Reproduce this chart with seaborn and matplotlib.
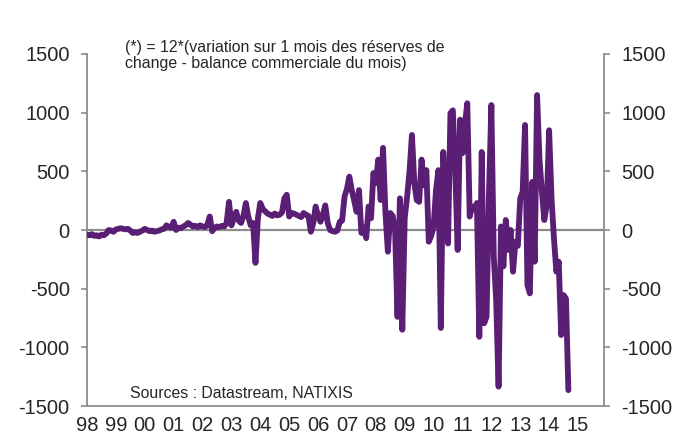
import matplotlib
matplotlib.use("Agg")
import matplotlib.pyplot as plt
import numpy as np
import pandas as pd
import seaborn as sns

# monthly values, Jan 1998 .. Sep 2014
y1998 = [-40, -45, -35, -50, -45, -55, -40, -45, -30, 0, -5, -15]
y1999 = [5, 10, 15, 10, 5, 10, -5, -25, -20, -25, -15, -5]
y2000 = [10, 0, -10, -5, -15, -10, -5, 5, 10, 40, 25, 20]
y2001 = [70, 0, 20, 15, 30, 40, 60, 45, 30, 35, 25, 40]
y2002 = [30, 25, 45, 115, -10, 20, 30, 25, 35, 30, 60, 240]
y2003 = [40, 100, 155, 80, 60, 120, 230, 115, 40, 60, -280, 100]
y2004 = [230, 180, 160, 140, 130, 120, 140, 125, 130, 150, 270, 300]
y2005 = [115, 145, 140, 130, 120, 110, 145, 130, 120, -15, 60, 200]
y2006 = [120, 70, 130, 210, 60, 0, -10, -15, -5, 70, 80, 285]
y2007 = [350, 455, 340, 250, 155, 340, -25, 20, -70, 200, 100, 485]
y2008 = [400, 600, 255, 700, 145, -185, 145, 120, 0, -740, 270, -850]
y2009 = [100, 285, 500, 810, 400, 255, 240, 600, 380, 510, -100, -50]
y2010 = [30, 340, 510, -835, 665, 300, -115, 995, 1020, 500, -170, 940]
y2011 = [655, 900, 1080, 115, 200, 180, 230, -910, 665, -795, -740, 300]
y2012 = [1065, -225, -600, -1335, 30, -310, 85, -170, 0, -355, -100, -135]
y2013 = [270, 325, 895, -470, -540, 410, -270, 1150, 600, 325, 85, 215]
y2014 = [850, 270, -70, -355, -270, -895, -555, -585, -1365]

years = list(range(1998, 2016))
year_labels = [f"{y % 100:02d}" for y in years]
y_ticks = [-1500, -1000, -500, 0, 500, 1000, 1500]

values = (y1998 + y1999 + y2000 + y2001 + y2002 + y2003 + y2004 + y2005 + y2006
          + y2007 + y2008 + y2009 + y2010 + y2011 + y2012 + y2013 + y2014)
df = pd.DataFrame({"t": 1998 + np.arange(len(values)) / 12, "v": values})

sns.set_style("white")
plt.rcParams['font.family'] = ['Liberation Sans', 'DejaVu Sans']
plt.rcParams['axes.unicode_minus'] = False

fig = plt.figure(figsize=(6.91, 4.44), dpi=100)
ax = fig.add_axes([87 / 691, 1 - 406 / 444, (604 - 87) / 691, (406 - 54) / 444])

grey = "#8c8c8c"
ax.axhline(0, color=grey, lw=1.6, zorder=1)
sns.lineplot(data=df, x="t", y="v", ax=ax, color="#5a1f75", lw=4.2, zorder=3)

ax.set_xlim(1998, 2015.9)
ax.set_ylim(-1500, 1500)
ax.set_xticks(years)
ax.set_xticklabels(year_labels)
ax.set_yticks(y_ticks)
ax.set_xlabel("")
ax.set_ylabel("")

for s in ["left", "right", "bottom"]:
    ax.spines[s].set_visible(True)
    ax.spines[s].set_color(grey)
    ax.spines[s].set_linewidth(1.3)
ax.spines["top"].set_visible(False)

ax.tick_params(axis="y", which="both", left=True, right=True, labelleft=True,
               labelright=True, direction="out", length=4.5, width=1.2,
               color=grey, pad=8, labelsize=14.5)
ax.tick_params(axis="x", direction="out", length=4.5, width=1.2, color=grey,
               pad=3, labelsize=14.5)

fig.text(125 / 691, 1 - 40 / 444,
         "(*) = 12*(variation sur 1 mois des réserves de\nchange - balance commerciale du mois)",
         fontsize=11.4, va="top", ha="left", linespacing=1.05)
fig.text(130 / 691, 1 - 393 / 444, "Sources : Datastream, NATIXIS",
         fontsize=11.4, va="center", ha="left")

fig.savefig("out.png", dpi=100)
